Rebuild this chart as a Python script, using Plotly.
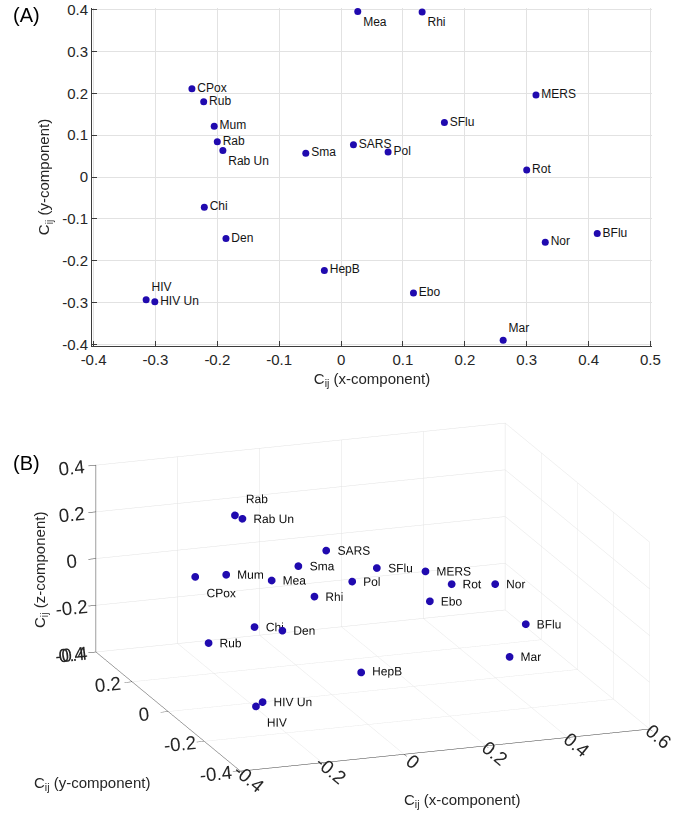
import plotly.graph_objects as go

# ---------------- data ----------------
names = ["CPox", "Rub", "Mum", "Rab", "Rab Un", "Sma", "Mea", "Rhi", "MERS", "SFlu",
         "SARS", "Pol", "Rot", "Chi", "Den", "HepB", "HIV", "HIV Un", "Nor", "BFlu",
         "Ebo", "Mar"]
cx = [-0.241, -0.222, -0.205, -0.200, -0.191, -0.057, 0.027, 0.131, 0.315, 0.167,
      0.020, 0.076, 0.300, -0.221, -0.186, -0.027, -0.315, -0.301, 0.330, 0.414,
      0.117, 0.262]
cy = [0.211, 0.180, 0.121, 0.084, 0.063, 0.057, 0.395, 0.394, 0.196, 0.130,
      0.077, 0.060, 0.017, -0.072, -0.147, -0.223, -0.293, -0.298, -0.156, -0.135,
      -0.277, -0.390]
cz = [0.014, -0.253, 0.074, 0.351, 0.348, 0.125, -0.167, -0.254, -0.053, 0.030,
      0.165, 0.033, 0.009, -0.024, 0.002, -0.157, -0.206, -0.187, 0.114, -0.086,
      0.156, -0.036]

x2_ticks = [-0.4, -0.3, -0.2, -0.1, 0, 0.1, 0.2, 0.3, 0.4, 0.5]
x2_labels = ["-0.4", "-0.3", "-0.2", "-0.1", "0", "0.1", "0.2", "0.3", "0.4", "0.5"]
y2_ticks = [-0.4, -0.3, -0.2, -0.1, 0, 0.1, 0.2, 0.3, 0.4]
y2_labels = ["-0.4", "-0.3", "-0.2", "-0.1", "0", "0.1", "0.2", "0.3", "0.4"]
x3_ticks = [-0.4, -0.2, 0, 0.2, 0.4, 0.6]
x3_labels = ["-0.4", "-0.2", "0", "0.2", "0.4", "0.6"]
yz3_ticks = [-0.4, -0.2, 0, 0.2, 0.4]
yz3_labels = ["-0.4", "-0.2", "0", "0.2", "0.4"]

title_x = "C<sub>ij</sub> (x-component)"
title_y = "C<sub>ij</sub> (y-component)"
title_z = "C<sub>ij</sub> (z-component)"

# ---------------- styles ----------------
FONT = "Liberation Sans, Arial, sans-serif"
DOT = "rgb(32,10,175)"
AXC = "rgb(60,60,60)"
TXT = "rgb(38,38,38)"
GRID = "rgb(226,226,226)"
EPSX = 0.0025
EPSY = 0.0036

pos2 = {"Rab Un": "bottom right", "Mea": "bottom right", "Rhi": "bottom right",
        "HIV": "top right", "Mar": "top right"}
pos3 = {"Rab": "top right", "CPox": "bottom right", "HIV": "bottom right"}
tp2 = [pos2.get(n, "middle right") for n in names]
tp3 = [pos3.get(n, "middle right") for n in names]

fig = go.Figure()

fig.add_trace(go.Scatter(
    x=cx, y=cy, mode="markers+text", text=names, textposition=tp2,
    textfont=dict(family=FONT, size=12, color="rgb(20,20,20)"),
    marker=dict(size=7, color=DOT), xaxis="x", yaxis="y", showlegend=False,
    cliponaxis=False, hoverinfo="skip"))

fig.add_trace(go.Scatter3d(
    x=cx, y=cy, z=cz, mode="markers+text", text=names, textposition=tp3,
    textfont=dict(family=FONT, size=12, color="rgb(20,20,20)"),
    marker=dict(size=4.5, color=DOT, line=dict(width=0)), scene="scene",
    showlegend=False, hoverinfo="skip"))

ax2 = dict(showline=True, linecolor=AXC, linewidth=1, mirror=False,
           ticks="inside", ticklen=5, tickcolor=AXC, ticklabeloverflow="allow",
           tickfont=dict(family=FONT, size=15, color=TXT), automargin=False,
           showgrid=True, gridcolor=GRID, gridwidth=1, zeroline=False)

ax3 = dict(showbackground=False, gridcolor=GRID, gridwidth=1, showline=True,
           linecolor=AXC, linewidth=1, ticks="outside", tickcolor=AXC, ticklen=8,
           tickfont=dict(family=FONT, size=15, color=TXT), showspikes=False,
           zeroline=False, autorange=False, title=dict(text=""))

E = 3.0
S = 2.17
SH = 0.069
tfont = dict(family=FONT, size=15, color=TXT)
fig.update_layout(
    width=690, height=820, margin=dict(l=0, r=0, t=0, b=0),
    paper_bgcolor="white", plot_bgcolor="white",
    font=dict(family=FONT, color=TXT),
    xaxis=dict(domain=[92/690, 652/690], range=[-0.4 - EPSX, 0.5 + EPSX],
               tickvals=x2_ticks, ticktext=x2_labels,
               title=dict(text=title_x, font=tfont, standoff=6),
               anchor="y", **ax2),
    yaxis=dict(domain=[1 - 346/820, 1 - 8/820], range=[-0.4 - EPSY, 0.4 + EPSY],
               tickvals=y2_ticks, ticktext=y2_labels,
               title=dict(text=title_y, font=tfont, standoff=8),
               anchor="x", **ax2),
    scene=dict(
        domain=dict(x=[0.04, 1.0], y=[0.028, 0.516]),
        xaxis=dict(range=[-0.4, 0.6], tickvals=x3_ticks, ticktext=x3_labels, **ax3),
        yaxis=dict(range=[-0.4, 0.4], tickvals=yz3_ticks, ticktext=yz3_labels, **ax3),
        zaxis=dict(range=[-0.4, 0.4], tickvals=yz3_ticks, ticktext=yz3_labels, **ax3),
        aspectmode="manual", aspectratio=dict(x=1.0 * S, y=1.0 * S, z=0.45 * S),
        camera=dict(eye=dict(x=-0.34 * E, y=-0.894 * E, z=0.291 * E),
                    center=dict(x=-0.935 * SH, y=0.355 * SH, z=0),
                    up=dict(x=0, y=0, z=1),
                    projection=dict(type="orthographic")),
        bgcolor="white"),
    annotations=[
        dict(text="(A)", x=26/690, y=1 - 15/820, xref="paper", yref="paper",
             xanchor="center", yanchor="middle",
             showarrow=False, font=dict(family=FONT, size=20, color="black")),
        dict(text="(B)", x=26/690, y=1 - 463/820, xref="paper", yref="paper",
             xanchor="center", yanchor="middle",
             showarrow=False, font=dict(family=FONT, size=20, color="black")),
        dict(text=title_z, x=40/690, y=1 - 570/820, xref="paper", yref="paper",
             xanchor="center", yanchor="middle", textangle=-90,
             showarrow=False, font=tfont),
        dict(text=title_y, x=92/690, y=1 - 783/820, xref="paper", yref="paper",
             xanchor="center", yanchor="middle",
             showarrow=False, font=tfont),
        dict(text=title_x, x=462/690, y=1 - 800/820, xref="paper", yref="paper",
             xanchor="center", yanchor="middle",
             showarrow=False, font=tfont),
    ],
)

fig.write_html("out.html", config={"displayModeBar": False},
               post_script="document.body.style.margin='0px';")
